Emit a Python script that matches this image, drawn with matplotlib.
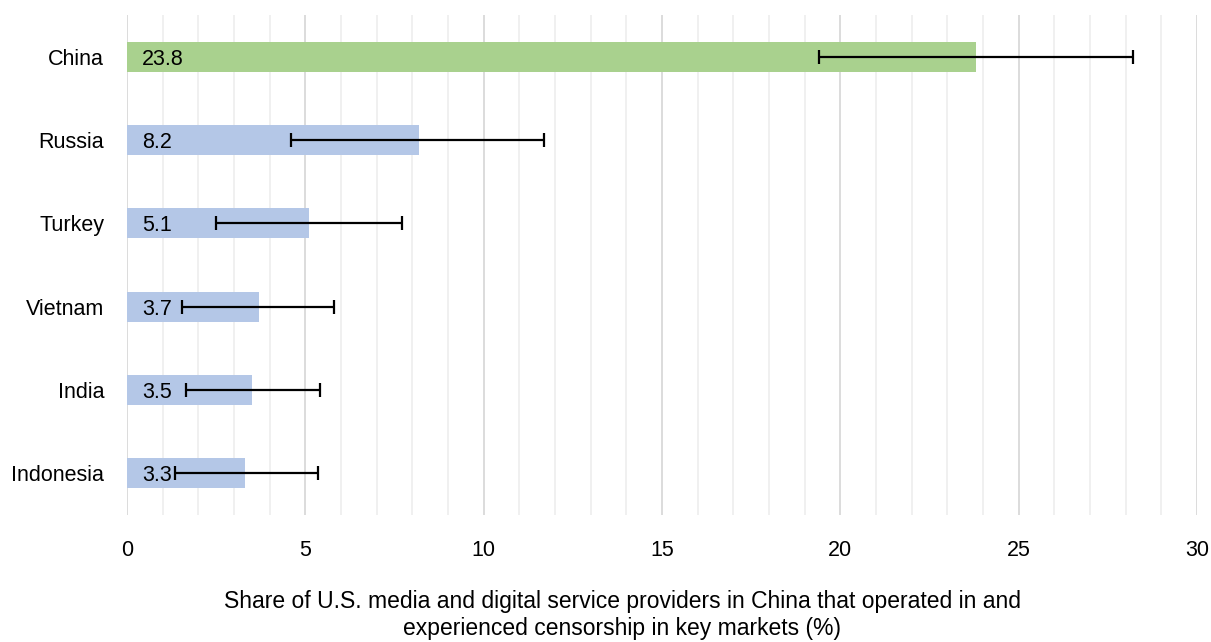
import matplotlib
matplotlib.use("Agg")
import matplotlib.pyplot as plt
from matplotlib.ticker import MultipleLocator

countries = ["China", "Russia", "Turkey", "Vietnam", "India", "Indonesia"]
values = [23.8, 8.2, 5.1, 3.7, 3.5, 3.3]
ci_low = [19.4, 4.6, 2.5, 1.55, 1.65, 1.35]
ci_high = [28.2, 11.7, 7.7, 5.8, 5.4, 5.35]
colors = ["#a9d18e", "#b4c7e7", "#b4c7e7", "#b4c7e7", "#b4c7e7", "#b4c7e7"]
xlabel = ("Share of U.S. media and digital service providers in China that operated in and\n"
          "experienced censorship in key markets (%)")

plt.rcParams['font.family'] = ['Liberation Sans', 'DejaVu Sans']
FS = 15.5

W, H = 1211, 642
fig = plt.figure(figsize=(W / 100, H / 100), dpi=100)
ax = fig.add_axes([127 / W, 1 - 515 / H, (1197 - 127) / W, 500 / H])

ypos = list(range(len(countries)))
ax.barh(ypos, values, height=0.36, color=colors, zorder=2)
xerr = [[v - lo for v, lo in zip(values, ci_low)], [hi - v for v, hi in zip(values, ci_high)]]
ax.errorbar(values, ypos, xerr=xerr, fmt='none', ecolor='black', elinewidth=1.6,
            capsize=5, capthick=1.6, zorder=3)
for y, v in zip(ypos, values):
    ax.text(0.42, y, f"{v:.1f}", va='center_baseline', ha='left', fontsize=FS,
            color='black', zorder=4)

ax.set_xlim(0, 30)
ax.set_ylim(len(countries) - 0.5, -0.5)
ax.set_yticks(ypos)
ax.set_yticklabels(countries, fontsize=FS, va='center_baseline')
ax.xaxis.set_major_locator(MultipleLocator(5))
ax.xaxis.set_minor_locator(MultipleLocator(1))
ax.tick_params(axis='both', which='both', length=0, labelsize=FS)
ax.tick_params(axis='x', pad=18)
ax.tick_params(axis='y', pad=16.5)
ax.grid(which='major', axis='x', color='#d9d9d9', linewidth=1.3, zorder=0)
ax.grid(which='minor', axis='x', color='#efefef', linewidth=1.3, zorder=0)
ax.set_axisbelow(True)
for s in ax.spines.values():
    s.set_visible(False)

fig.text(622 / W, 1 - 615 / H, xlabel, ha='center', va='center', fontsize=16.5,
         linespacing=1.2)

fig.savefig("out.png", dpi=100, facecolor='white')
